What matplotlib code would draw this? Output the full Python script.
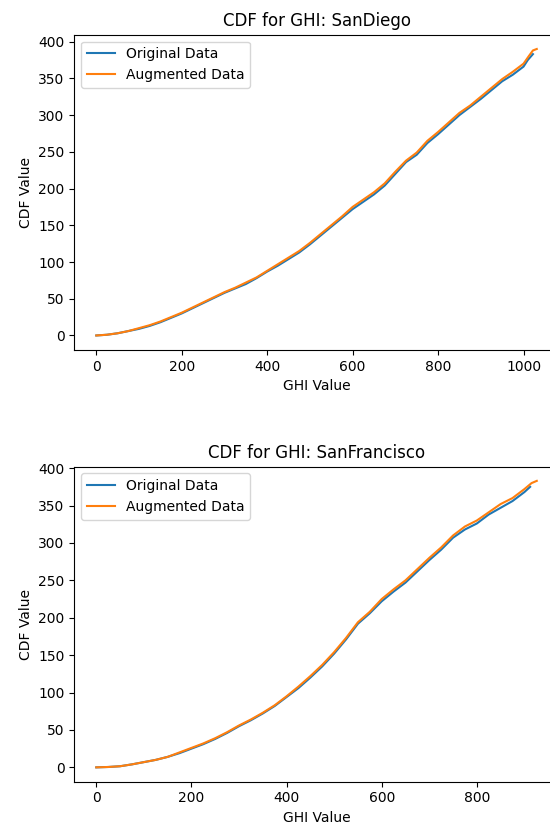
import matplotlib
matplotlib.use("Agg")
import matplotlib.pyplot as plt

# SanDiego
sd_orig_x = [0, 25, 50, 75, 100, 125, 150, 175, 200, 225, 250, 275, 300, 325, 350, 375,
             400, 425, 450, 475, 500, 525, 550, 575, 600, 625, 650, 675, 700, 725, 750,
             775, 800, 825, 850, 875, 900, 925, 950, 975, 1000, 1010, 1022]
sd_orig_y = [0, 1, 3, 6, 9, 13, 18, 24, 30, 37, 44, 51, 58, 64, 70, 78,
             87, 95, 104, 113, 124, 136, 148, 160, 172, 182, 192, 204, 220, 236, 246,
             262, 274, 287, 300, 311, 322, 334, 346, 355, 366, 375, 383]
sd_aug_x = [0, 25, 50, 75, 100, 125, 150, 175, 200, 225, 250, 275, 300, 325, 350, 375,
            400, 425, 450, 475, 500, 525, 550, 575, 600, 625, 650, 675, 700, 725, 750,
            775, 800, 825, 850, 875, 900, 925, 950, 975, 1000, 1012, 1022, 1031]
sd_aug_y = [0, 1, 3, 6, 10, 14, 19, 25, 31, 38, 45, 52, 59, 65, 72, 79,
            88, 97, 106, 115, 126, 138, 150, 162, 175, 185, 195, 207, 223, 238, 249,
            265, 277, 290, 303, 313, 325, 337, 349, 359, 370, 380, 388, 390]

# SanFrancisco
sf_orig_x = [0, 25, 50, 75, 100, 125, 150, 175, 200, 225, 250, 275, 300, 325, 350, 375,
             400, 425, 450, 475, 500, 525, 550, 575, 600, 625, 650, 675, 700, 725, 750,
             775, 800, 825, 850, 875, 900, 912]
sf_orig_y = [0, 0.5, 1.5, 4, 7, 10, 14, 19, 25, 31, 38, 46, 55, 63, 72, 82,
             94, 106, 120, 135, 152, 171, 192, 206, 222, 235, 247, 262, 277, 291, 307,
             318, 326, 338, 347, 356, 368, 375]
sf_aug_x = [0, 25, 50, 75, 100, 125, 150, 175, 200, 225, 250, 275, 300, 325, 350, 375,
            400, 425, 450, 475, 500, 525, 550, 575, 600, 625, 650, 675, 700, 725, 750,
            775, 800, 825, 850, 875, 900, 915, 926]
sf_aug_y = [0, 0.5, 1.5, 4, 7, 10, 14, 20, 26, 32, 39, 47, 56, 64, 73, 83,
            95, 108, 122, 137, 154, 173, 194, 208, 225, 238, 250, 265, 280, 294, 310,
            322, 330, 341, 352, 360, 372, 380, 383]

cities = ["SanDiego", "SanFrancisco"]
series = [(sd_orig_x, sd_orig_y, sd_aug_x, sd_aug_y),
          (sf_orig_x, sf_orig_y, sf_aug_x, sf_aug_y)]

fig = plt.figure(figsize=(5.5, 8.25), dpi=100)
positions = [[0.135, 0.576, 0.881, 0.382], [0.135, 0.0525, 0.881, 0.382]]

for pos, city, (ox, oy, ax_, ay) in zip(positions, cities, series):
    ax = fig.add_axes(pos)
    ax.plot(ox, oy, label="Original Data")
    ax.plot(ax_, ay, label="Augmented Data")
    ax.set_title("CDF for GHI: " + city)
    ax.set_xlabel("GHI Value")
    ax.set_ylabel("CDF Value")
    ax.legend(loc="upper left")

fig.savefig("out.png", dpi=100)
